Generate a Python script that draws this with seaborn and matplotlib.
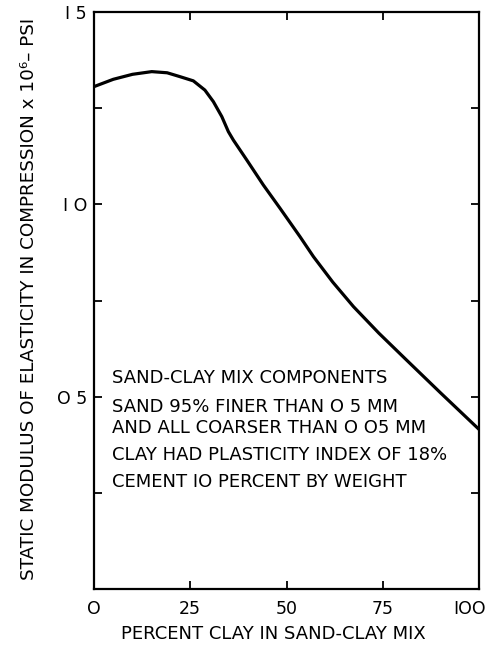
import matplotlib
matplotlib.use("Agg")
import matplotlib.pyplot as plt
import matplotlib.transforms as mtrans
import seaborn as sns
import pandas as pd
from matplotlib.ticker import FixedLocator

# Data
clay_pct = [0, 5, 10, 15, 19, 22.3, 25.8, 28.8, 31.0, 33.2, 34.9, 36.2, 39.7, 44.0,
            48.3, 53.5, 57, 62, 67.4, 74, 81.2, 90, 100]
modulus = [1.306, 1.325, 1.338, 1.345, 1.342, 1.332, 1.321, 1.297, 1.267, 1.228, 1.189,
           1.167, 1.115, 1.050, 0.990, 0.916, 0.864, 0.798, 0.734, 0.665, 0.595, 0.510, 0.415]

x_ticks = [0, 25, 50, 75, 100]
x_tick_labels = ["O", "25", "50", "75", "IOO"]
y_major = [0.5, 1.0, 1.5]
y_major_labels = ["O 5", "I O", "I 5"]
y_minor = [0.25, 0.75, 1.25]

notes = [
    "SAND-CLAY MIX COMPONENTS",
    "SAND 95% FINER THAN O 5 MM",
    "AND ALL COARSER THAN O O5 MM",
    "CLAY HAD PLASTICITY INDEX OF 18%",
    "CEMENT IO PERCENT BY WEIGHT",
]
note_y = [0.548, 0.473, 0.418, 0.348, 0.278]

sns.set_theme(style="white")
plt.rcParams["font.family"] = ["DejaVu Sans"]

df = pd.DataFrame({"clay": clay_pct, "E": modulus})

fig = plt.figure(figsize=(4.88, 6.47), dpi=100)
ax = fig.add_axes([94 / 488, 1 - 589 / 647, (479 - 94) / 488, (589 - 12) / 647])

sns.lineplot(data=df, x="clay", y="E", ax=ax, color="black", linewidth=2.3, sort=False)

ax.set_xlim(0, 100)
ax.set_ylim(0, 1.5)

ax.xaxis.set_major_locator(FixedLocator(x_ticks))
ax.set_xticklabels(x_tick_labels)
ax.yaxis.set_major_locator(FixedLocator(y_major))
ax.set_yticklabels(y_major_labels)
ax.yaxis.set_minor_locator(FixedLocator(y_minor))

for s in ax.spines.values():
    s.set_color("black")
    s.set_linewidth(1.6)

ax.tick_params(axis="both", which="both", direction="in", top=True, right=True,
               bottom=True, left=True, length=6, width=1.3, colors="black",
               labelsize=12.5)
ax.tick_params(axis="x", which="major", pad=8)
ax.tick_params(axis="y", which="major", pad=5)

# nudge the last x label left, as in the reference
last = ax.get_xticklabels()[-1]
last.set_transform(last.get_transform() +
                   mtrans.ScaledTranslation(-7 / 72, 0, fig.dpi_scale_trans))

ax.set_xlabel("PERCENT CLAY IN SAND-CLAY MIX", fontsize=13, color="black")
ax.xaxis.set_label_coords(0.467, -0.062)
ax.set_ylabel("STATIC MODULUS OF ELASTICITY IN COMPRESSION x 10⁶– PSI",
              fontsize=13.2, color="black")
ax.yaxis.set_label_coords(-0.169, 0.503)
ax.yaxis.label.set_verticalalignment("center")

for txt, yy in zip(notes, note_y):
    ax.text(4.7, yy, txt, fontsize=13, color="black", ha="left", va="center")

fig.savefig("out.png", dpi=100)
